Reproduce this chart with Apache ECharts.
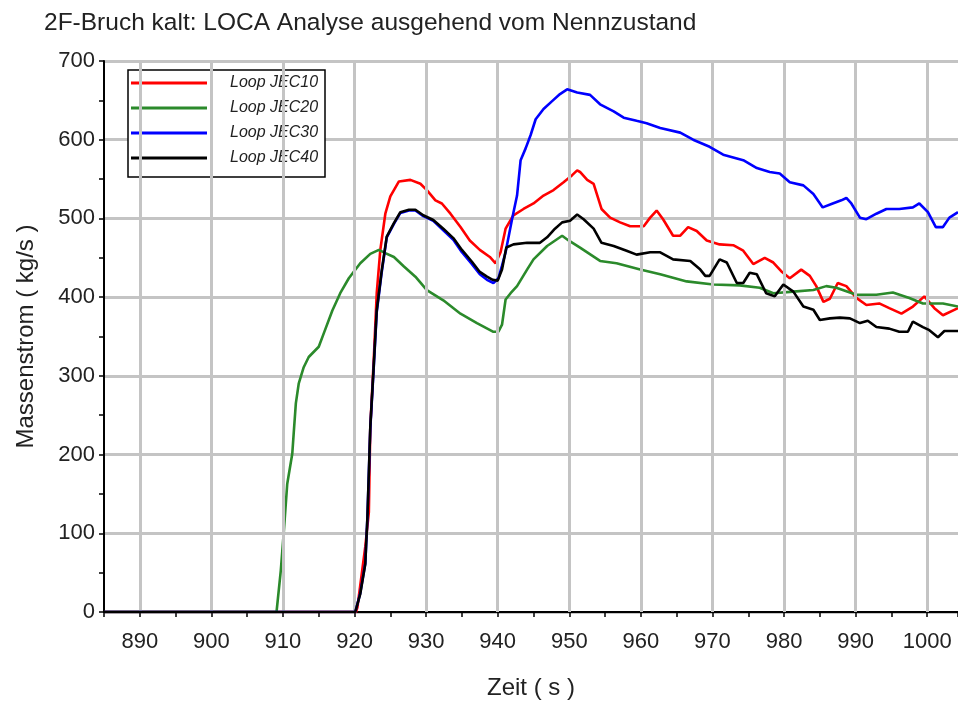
<!DOCTYPE html>
<html><head><meta charset="utf-8">
<script src="https://cdn.jsdelivr.net/npm/echarts@6/dist/echarts.min.js"></script>
<style>html,body{margin:0;padding:0;background:#fff}#c{width:958px;height:707px}</style>
</head><body><div id="c"></div>
<script>
const seriesNames = ['Loop JEC10', 'Loop JEC20', 'Loop JEC30', 'Loop JEC40'];
const xGridTicks = [890, 900, 910, 920, 930, 940, 950, 960, 970, 980, 990, 1000];

const t10 = [885, 920.2, 920.4, 921.5, 922.0, 922.2, 922.7, 923.1, 923.6, 924.3, 925.0, 926.2, 927.8, 929.2, 930.1, 931.3, 932.2, 933.4, 934.8, 936.1, 937.5, 938.9, 939.7, 940.4, 941.1, 942.2, 943.6, 945.0, 946.4, 947.8, 949.2, 950.4, 951.1, 951.5, 952.5, 953.4, 954.5, 955.7, 957.1, 958.5, 960.4, 961.3, 962.2, 963.1, 964.5, 965.5, 966.6, 967.8, 969.2, 971.0, 972.9, 974.3, 975.7, 977.3, 978.5, 979.6, 980.8, 982.4, 983.6, 984.5, 985.5, 986.4, 987.5, 988.7, 990.1, 991.5, 993.3, 994.7, 996.4, 998.0, 999.6, 1001.0, 1002.2, 1004.3];
const v10 = [0, 0, 6, 83, 127, 235, 324, 405, 460, 506, 528, 547, 549, 544, 536, 523, 519, 506, 489, 472, 460, 451, 443, 457, 487, 504, 512, 519, 529, 536, 546, 555, 561, 559, 549, 544, 512, 501, 495, 490, 490, 501, 510, 499, 478, 478, 489, 484, 472, 467, 466, 459, 442, 450, 444, 433, 424, 435, 427, 414, 394, 398, 418, 414, 399, 390, 392, 386, 379, 388, 401, 386, 377, 386];

const t20 = [885, 909.1, 909.7, 910.1, 910.6, 911.3, 911.5, 911.8, 912.2, 912.9, 913.6, 915.0, 915.7, 916.9, 918.0, 919.2, 920.8, 922.2, 923.4, 924.3, 925.5, 926.9, 928.5, 930.1, 932.4, 934.8, 937.1, 939.4, 940.1, 940.6, 941.1, 941.8, 942.7, 944.1, 945.0, 946.9, 949.0, 949.9, 951.5, 954.3, 956.6, 959.9, 962.7, 966.4, 970.1, 973.8, 976.6, 978.5, 981.3, 984.1, 985.9, 987.3, 990.1, 992.9, 995.2, 997.5, 999.4, 1002.2, 1004.3];
const v20 = [0, 0, 53, 100, 163, 201, 227, 265, 290, 311, 324, 337, 354, 383, 405, 424, 443, 455, 460, 456, 451, 439, 426, 409, 396, 379, 367, 356, 356, 365, 397, 405, 414, 435, 448, 465, 478, 472, 463, 446, 443, 435, 429, 420, 416, 415, 412, 405, 407, 409, 414, 412, 403, 403, 406, 399, 392, 392, 388];

const t30 = [885, 920.1, 920.8, 921.5, 921.8, 922.2, 922.7, 923.1, 923.8, 924.5, 925.5, 926.4, 927.6, 928.5, 929.6, 931.0, 932.4, 933.8, 935.0, 936.4, 937.5, 938.5, 939.4, 940.1, 940.6, 941.1, 942.0, 942.7, 943.2, 943.9, 944.6, 945.3, 946.4, 947.6, 948.7, 949.7, 951.1, 952.9, 954.3, 956.2, 957.6, 959.4, 960.8, 962.7, 965.5, 967.3, 969.6, 971.5, 974.3, 976.2, 978.0, 979.4, 980.8, 982.7, 984.1, 985.4, 986.8, 988.0, 988.7, 989.4, 990.6, 991.5, 992.9, 994.3, 996.1, 998.0, 998.9, 1000.1, 1001.2, 1002.2, 1003.1, 1004.3];
const v30 = [0, 0, 24, 62, 120, 233, 314, 381, 432, 476, 493, 507, 510, 510, 503, 497, 485, 473, 457, 442, 429, 422, 418, 424, 440, 457, 499, 529, 574, 589, 606, 626, 639, 649, 658, 664, 660, 657, 645, 636, 628, 624, 621, 615, 609, 600, 591, 581, 574, 564, 559, 557, 546, 542, 531, 514, 519, 523, 526, 519, 501, 499, 506, 512, 512, 514, 519, 508, 489, 489, 501, 508];

const t40 = [885, 920.1, 920.8, 921.5, 921.8, 922.2, 922.7, 923.1, 923.8, 924.5, 925.5, 926.4, 927.6, 928.5, 929.6, 931.0, 932.4, 933.8, 935.0, 936.4, 937.5, 938.5, 939.3, 940.0, 940.6, 941.2, 942.2, 944.1, 945.9, 946.9, 948.0, 949.0, 950.1, 951.1, 952.0, 953.4, 954.5, 956.2, 958.0, 959.4, 961.3, 962.7, 964.5, 966.9, 968.3, 969.0, 969.6, 971.0, 972.0, 973.4, 974.3, 975.2, 976.2, 977.5, 978.7, 979.9, 981.3, 982.7, 984.1, 985.0, 986.4, 987.8, 989.2, 990.6, 991.7, 992.9, 994.7, 996.1, 997.3, 998.0, 999.4, 1000.3, 1001.5, 1002.4, 1004.3];
const v40 = [0, 0, 23, 61, 121, 235, 316, 383, 434, 477, 494, 508, 511, 511, 504, 498, 487, 475, 460, 445, 432, 426, 422, 421, 435, 463, 467, 469, 469, 476, 487, 495, 497, 505, 499, 487, 469, 465, 459, 454, 457, 457, 448, 446, 435, 427, 427, 448, 444, 418, 418, 431, 429, 405, 401, 416, 407, 388, 384, 371, 373, 374, 373, 367, 370, 362, 360, 356, 356, 369, 362, 358, 349, 357, 357];

const colors = ['#ff0000', '#2b8a2b', '#0000ff', '#000000'];
const times = [t10, t20, t30, t40];
const values = [v10, v20, v30, v40];

const chart = echarts.init(document.getElementById('c'), null, {renderer: 'canvas'});
const gridColor = '#c4c4c4';
const font = '"Liberation Sans", Arial, sans-serif';

const series = [{
  name: '_grid', type: 'line', data: [], z: 1, silent: true,
  markLine: {
    silent: true, symbol: ['none', 'none'], animation: false,
    label: {show: false},
    lineStyle: {color: gridColor, width: 3, type: 'solid'},
    data: xGridTicks.map(v => ({xAxis: v}))
  }
}];
seriesNames.forEach((n, i) => {
  series.push({
    name: n, type: 'line', showSymbol: false, symbol: 'none', z: 3 + i,
    animation: false,
    lineStyle: {color: colors[i], width: 2.6},
    itemStyle: {color: colors[i]},
    data: times[i].map((t, k) => [t, values[i][k]])
  });
});

chart.setOption({
  animation: false,
  backgroundColor: '#fff',
  title: {
    text: '2F-Bruch kalt: LOCA Analyse ausgehend vom Nennzustand',
    left: 39, top: 6,
    textStyle: {fontFamily: font, fontSize: 24.5, fontWeight: 'normal', color: '#222'}
  },
  legend: {
    data: seriesNames, orient: 'vertical', left: 128, top: 70,
    backgroundColor: '#fff', borderColor: '#000', borderWidth: 1.5,
    padding: [5, 0, 11, 3], itemWidth: 76, itemHeight: 3, itemGap: 9, icon: 'rect',
    selectedMode: false,
    textStyle: {fontFamily: font, fontSize: 16, fontStyle: 'italic', color: '#222',
      lineHeight: 16, padding: [0, 0, 0, 18], width: 95, overflow: 'truncate', ellipsis: ''}
  },
  grid: {left: 104, top: 61, right: 0, bottom: 95, containLabel: false, outerBoundsMode: 'none'},
  xAxis: [{
    type: 'value', min: 885, max: 1004.3, interval: 5,
    name: 'Zeit ( s )', nameLocation: 'middle', nameGap: 64,
    nameTextStyle: {fontFamily: font, fontSize: 24, color: '#222'},
    axisLine: {show: true, onZero: false, lineStyle: {color: '#000', width: 2}},
    axisTick: {show: true, length: 5, lineStyle: {color: '#000', width: 1.5}},
    axisLabel: {fontFamily: font, fontSize: 22, color: '#222', margin: 19,
      formatter: v => (Math.abs(v - Math.round(v / 10) * 10) < 1e-6) ? String(Math.round(v)) : ''},
    splitLine: {show: false}
  }, {
    type: 'value', position: 'top', min: 885, max: 1004.3,
    axisLine: {show: true, lineStyle: {color: '#000', width: 2}},
    axisTick: {show: false}, axisLabel: {show: false}, splitLine: {show: false}
  }],
  yAxis: {
    type: 'value', min: 0, max: 700, interval: 100,
    name: 'Massenstrom ( kg/s )', nameLocation: 'middle', nameGap: 66,
    nameTextStyle: {fontFamily: font, fontSize: 24, color: '#222'},
    axisLine: {show: true, lineStyle: {color: '#000', width: 2}},
    axisTick: {show: true, length: 5, lineStyle: {color: '#000', width: 1.5}},
    minorTick: {show: true, splitNumber: 2, length: 5, lineStyle: {color: '#000', width: 1.5}},
    axisLabel: {fontFamily: font, fontSize: 22, color: '#222', margin: 9},
    splitLine: {show: true, lineStyle: {color: gridColor, width: 3}}
  },
  series: series
});
</script></body></html>
